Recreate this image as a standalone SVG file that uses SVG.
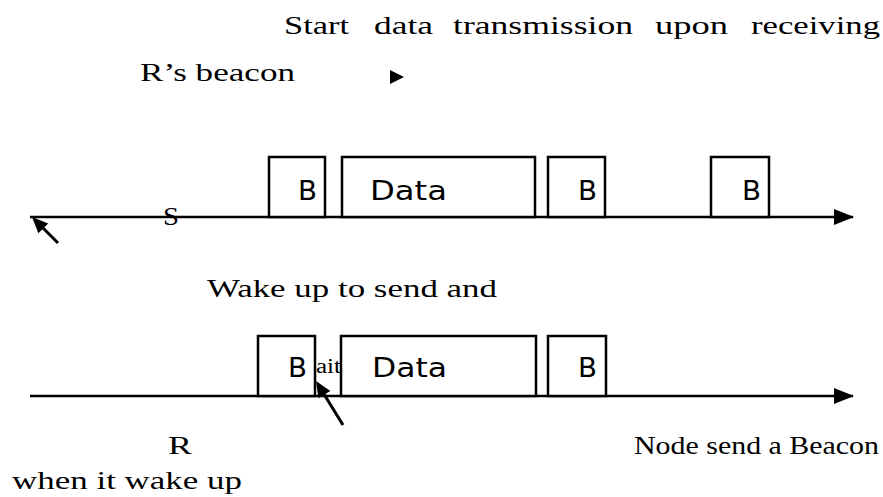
<svg xmlns="http://www.w3.org/2000/svg" width="883" height="497" viewBox="0 0 883 497">
<style>
.ser{font-family:"Liberation Serif","Times New Roman",serif;font-size:26px;fill:#000}
.sans{font-family:"DejaVu Sans",Verdana,sans-serif;font-size:27px;fill:#000}
.box{fill:#fff;stroke:#000;stroke-width:2.5}
.ln{stroke:#000;stroke-width:2.5;fill:none}
.cur{stroke:#000;stroke-width:3;fill:none}
</style>
<defs>
<marker id="ah" markerWidth="20" markerHeight="16" refX="19" refY="8" orient="auto" markerUnits="userSpaceOnUse">
<path d="M0,0 L20,8 L0,16 Z" fill="#000"/>
</marker>
</defs>
<rect width="883" height="497" fill="#fff"/>
<g id="labels">
<text class="ser" x="284" y="34" textLength="65" lengthAdjust="spacingAndGlyphs">Start</text>
<text class="ser" x="374" y="34" textLength="59" lengthAdjust="spacingAndGlyphs">data</text>
<text class="ser" x="453" y="34" textLength="180" lengthAdjust="spacingAndGlyphs">transmission</text>
<text class="ser" x="655" y="34" textLength="73" lengthAdjust="spacingAndGlyphs">upon</text>
<text class="ser" x="751" y="34" textLength="129" lengthAdjust="spacingAndGlyphs">receiving</text>
<text class="ser" x="140" y="81" textLength="155" lengthAdjust="spacingAndGlyphs">R’s beacon</text>
<path d="M390,70 L404,77 L390,84 Z" fill="#000"/>
<text class="ser" x="207" y="297" textLength="290" lengthAdjust="spacingAndGlyphs">Wake up to send and</text>
<text class="ser" x="168" y="454" textLength="24" lengthAdjust="spacingAndGlyphs">R</text>
<text class="ser" x="634" y="454" textLength="245" lengthAdjust="spacingAndGlyphs">Node send a Beacon</text>
<text class="ser" x="12" y="489" textLength="230" lengthAdjust="spacingAndGlyphs">when it wake up</text>
</g>
<g id="connectors">
<line class="ln" x1="30" y1="217" x2="853" y2="217" marker-end="url(#ah)"/>
<line class="ln" x1="30" y1="396" x2="853" y2="396" marker-end="url(#ah)"/>
</g>
<g id="timeline-S">
<text class="ser" x="163" y="225" textLength="16" lengthAdjust="spacingAndGlyphs">S</text>
<g id="s-b1"><rect class="box" x="269" y="157" width="56" height="60"/><text class="sans" x="298" y="200" textLength="19" lengthAdjust="spacingAndGlyphs">B</text></g>
<g id="s-data"><rect class="box" x="342" y="157" width="193" height="60"/><text class="sans" x="370" y="200" textLength="77" lengthAdjust="spacingAndGlyphs">Data</text></g>
<g id="s-b2"><rect class="box" x="548" y="157" width="57" height="60"/><text class="sans" x="578" y="200" textLength="19" lengthAdjust="spacingAndGlyphs">B</text></g>
<g id="s-b3"><rect class="box" x="711" y="157" width="58" height="60"/><text class="sans" x="742" y="200" textLength="19" lengthAdjust="spacingAndGlyphs">B</text></g>
<g id="cursor-s"><line class="cur" x1="58" y1="243" x2="41" y2="226"/><path d="M32,217 L48.2,223.4 L38.4,233.3 Z" fill="#000"/></g>
</g>
<g id="timeline-R">
<g id="r-b1"><rect class="box" x="258" y="336" width="57" height="60"/><text class="sans" x="288" y="377" textLength="19" lengthAdjust="spacingAndGlyphs">B</text></g>
<text class="ser" x="316" y="373" textLength="25" lengthAdjust="spacingAndGlyphs" style="font-size:20px">ait</text>
<g id="r-data"><rect class="box" x="341" y="336" width="195" height="60"/><text class="sans" x="372" y="377" textLength="75" lengthAdjust="spacingAndGlyphs">Data</text></g>
<g id="r-b2"><rect class="box" x="548" y="336" width="58" height="60"/><text class="sans" x="578" y="377" textLength="19" lengthAdjust="spacingAndGlyphs">B</text></g>
<g id="cursor-r"><line class="cur" x1="343" y1="425" x2="322" y2="391"/><path d="M316,381 L330.3,390.9 L318.4,398.3 Z" fill="#000"/></g>
</g>
</svg>
